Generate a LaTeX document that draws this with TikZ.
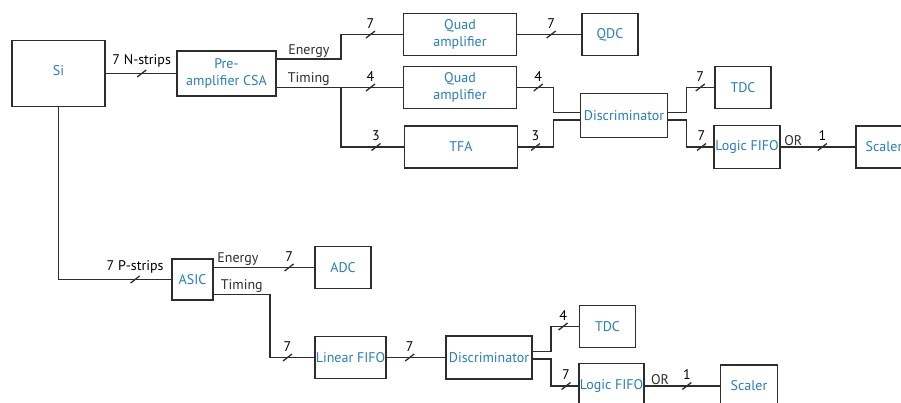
\documentclass[tikz,border=0pt]{standalone}
\usepackage{fontspec}
\setmainfont{PT Sans}
\usetikzlibrary{calc}
\definecolor{LabelBlue}{RGB}{38,125,192}
\definecolor{WireGray}{RGB}{45,45,45}
\tikzset{
  block/.style={draw=WireGray,line width=1.7pt,text=LabelBlue,align=center,
    inner sep=1pt,font=\fontsize{14}{17.5}\selectfont},
  wire/.style={WireGray,line width=1.6pt},
  wirelabel/.style={font=\fontsize{14}{17}\selectfont,inner sep=1pt},
  buslabel/.style={font=\fontsize{14}{17}\selectfont,inner sep=0pt,
    anchor=south,yshift=6pt}
}
\newcommand{\busmark}[2]{%
  \draw[wire,line width=1.3pt] (#1) ++(-4.5,3.5) -- ++(9,-7);
  \node[buslabel] (#1lbl) at (#1) {#2};}

\begin{document}
\begin{tikzpicture}[x=1pt,y=-1pt]
  \useasboundingbox (0,0) rectangle (901,403);
  % N side
  \node[block,minimum width=93,minimum height=66] (si) at (58.5,73.5) {\raisebox{5pt}{Si}};
  \node[block,minimum width=99,minimum height=45] (csa) at (226.5,73.5) {Pre-\\amplifier CSA};
  \node[block,minimum width=113,minimum height=42] (quadE) at (460,34.5) {Quad\\amplifier};
  \node[block,minimum width=56,minimum height=42] (qdc) at (610,34.5) {QDC};
  \node[block,minimum width=113,minimum height=42] (quadT) at (460,87.5) {Quad\\amplifier};
  \node[block,minimum width=113,minimum height=42] (tfa) at (461,147) {TFA};
  \node[block,minimum width=87,minimum height=44] (discN) at (624,115.5) {Discriminator};
  \node[block,minimum width=56,minimum height=42] (tdcN) at (743,87.5) {TDC};
  \node[block,minimum width=64,minimum height=43] (fifoN) at (747,147) {Logic FIFO};
  \node[block,minimum width=56,minimum height=42] (scalerN) at (884,147) {Scaler};
  % P side
  \node[block,minimum width=41,minimum height=41] (asic) at (192.5,279.5) {ASIC};
  \node[block,minimum width=56,minimum height=42] (adc) at (343,267.5) {ADC};
  \node[block,minimum width=71,minimum height=42] (linfifo) at (350.5,357.5) {Linear FIFO};
  \node[block,minimum width=86,minimum height=43] (discP) at (489,357.5) {Discriminator};
  \node[block,minimum width=56,minimum height=42] (tdcP) at (607.5,326.5) {TDC};
  \node[block,minimum width=64,minimum height=45] (fifoP) at (611.5,386) {Logic FIFO};
  \node[block,minimum width=57,minimum height=42] (scalerP) at (749,386) {Scaler};
  % N side wires
  \draw[wire] (si.east |- csa) -- coordinate[pos=.51] (bA) (csa.west);
  \draw[wire] ($(csa.east)+(0,-14.5)$) -- node[wirelabel,above] (lEnergyN) {Energy} ++(64,0)
    |- coordinate[pos=.74] (bB) (quadE.west);
  \draw[wire] ($(csa.east)+(0,14)$) -- node[wirelabel,above] (lTimingN) {Timing} ++(64,0)
    coordinate (tsplit) -- coordinate[pos=.48] (bC) (quadT.west);
  \draw[wire] (tsplit) |- coordinate[pos=.78] (bD) (tfa.west);
  \draw[wire] (quadE.east) -- coordinate[pos=.53] (bE) (qdc.west);
  \draw[wire] (quadT.east) -- coordinate[pos=.58] (bF) ++(36,0) |- ($(discN.west)+(0,-3)$);
  \draw[wire] (tfa.east) -- coordinate[pos=.49] (bG) ++(35,0) |- ($(discN.west)+(0,4.5)$);
  \draw[wire] ($(discN.east)+(0,-3)$) -- ++(18,0) |- coordinate[pos=.75] (bH) (tdcN.west);
  \draw[wire] ($(discN.east)+(0,4.5)$) -- ++(18,0) |- coordinate[pos=.78] (bI) (fifoN.west);
  \draw[wire] (fifoN.east) -- node[wirelabel,above,pos=.17] (lOrN) {OR}
    coordinate[pos=.56] (bJ) (scalerN.west);
  % P side wires
  \draw[wire] (si.south) |- coordinate[pos=.84] (bK) (asic.west);
  \draw[wire] ($(asic.east)+(0,-12)$) -- node[wirelabel,above,pos=.24] (lEnergyP) {Energy}
    coordinate[pos=.75] (bL) (adc.west);
  \draw[wire] ($(asic.east)+(0,15)$) -- node[wirelabel,above] (lTimingP) {Timing} ++(56,0)
    |- coordinate[pos=.7] (bM) (linfifo.west);
  \draw[wire] (linfifo.east) -- coordinate[pos=.39] (bN) (discP.west);
  \draw[wire] ($(discP.east)+(0,-6)$) -- ++(18,0) |- coordinate[pos=.72] (bO) (tdcP.west);
  \draw[wire] ($(discP.east)+(0,1.5)$) -- ++(18,0) |- coordinate[pos=.78] (bP) (fifoP.west);
  \draw[wire] (fifoP.east) -- node[wirelabel,above,pos=.2] (lOrP) {OR}
    coordinate[pos=.56] (bQ) (scalerP.west);
  % bus widths
  \busmark{bA}{7 N-strips}
  \busmark{bB}{7}
  \busmark{bC}{4}
  \busmark{bD}{3}
  \busmark{bE}{7}
  \busmark{bF}{4}
  \busmark{bG}{3}
  \busmark{bH}{7}
  \busmark{bI}{7}
  \busmark{bJ}{1}
  \busmark{bK}{7 P-strips}
  \busmark{bL}{7}
  \busmark{bM}{7}
  \busmark{bN}{7}
  \busmark{bO}{4}
  \busmark{bP}{7}
  \busmark{bQ}{1}
\end{tikzpicture}
\end{document}
